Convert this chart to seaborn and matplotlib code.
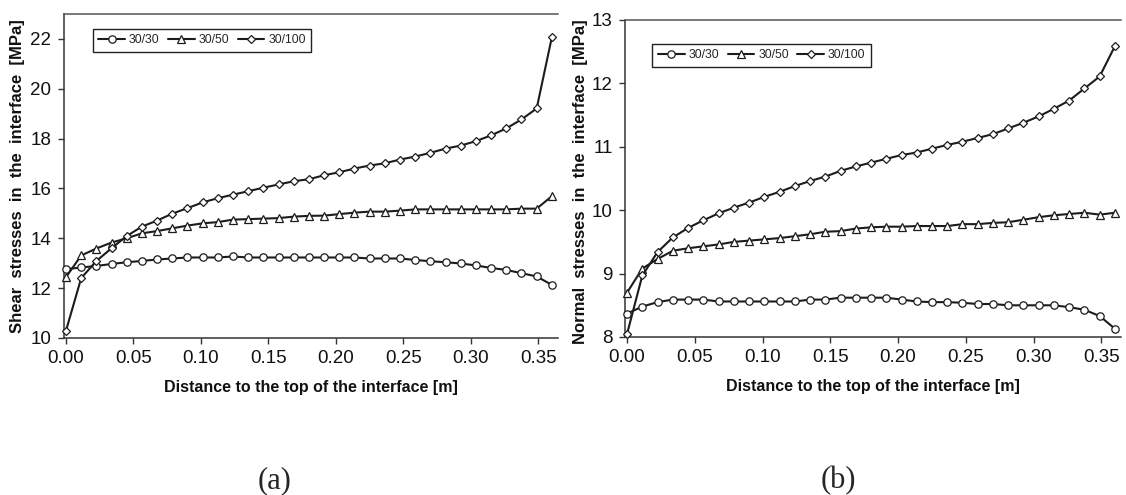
import matplotlib
matplotlib.use("Agg")
import matplotlib.pyplot as plt
import seaborn as sns
import pandas as pd

# ---- data -------------------------------------------------------------
distance = [0.0, 0.01125, 0.0225, 0.03375, 0.045, 0.05625, 0.0675, 0.07875,
            0.09, 0.10125, 0.1125, 0.12375, 0.135, 0.14625, 0.1575, 0.16875,
            0.18, 0.19125, 0.2025, 0.21375, 0.225, 0.23625, 0.2475, 0.25875,
            0.27, 0.28125, 0.2925, 0.30375, 0.315, 0.32625, 0.3375, 0.34875,
            0.36]

series_names = ["30/30", "30/50", "30/100"]

shear_30_30 = [12.76, 12.83, 12.89, 12.97, 13.04, 13.09, 13.15, 13.19, 13.23,
               13.23, 13.23, 13.27, 13.23, 13.23, 13.23, 13.23, 13.23, 13.23,
               13.23, 13.23, 13.19, 13.19, 13.19, 13.13, 13.08, 13.04, 12.99,
               12.91, 12.81, 12.73, 12.60, 12.47, 12.13]
shear_30_50 = [12.44, 13.31, 13.59, 13.83, 14.00, 14.20, 14.29, 14.40, 14.51,
               14.60, 14.65, 14.75, 14.77, 14.79, 14.81, 14.87, 14.90, 14.91,
               14.97, 15.03, 15.07, 15.07, 15.11, 15.16, 15.16, 15.16, 15.16,
               15.16, 15.16, 15.16, 15.19, 15.19, 15.69]
shear_30_100 = [10.29, 12.40, 13.09, 13.60, 14.09, 14.47, 14.71, 14.99, 15.21,
                15.44, 15.61, 15.75, 15.89, 16.03, 16.16, 16.29, 16.37, 16.53,
                16.65, 16.80, 16.92, 17.01, 17.16, 17.28, 17.43, 17.60, 17.72,
                17.90, 18.13, 18.41, 18.77, 19.21, 22.07]

normal_30_30 = [8.37, 8.48, 8.55, 8.59, 8.59, 8.59, 8.56, 8.56, 8.56, 8.56,
                8.56, 8.56, 8.59, 8.59, 8.62, 8.62, 8.62, 8.62, 8.59, 8.56,
                8.55, 8.55, 8.54, 8.52, 8.52, 8.50, 8.50, 8.50, 8.50, 8.47,
                8.43, 8.33, 8.13]
normal_30_50 = [8.70, 9.08, 9.23, 9.36, 9.40, 9.43, 9.46, 9.50, 9.52, 9.54,
                9.56, 9.59, 9.62, 9.66, 9.67, 9.71, 9.73, 9.74, 9.74, 9.75,
                9.75, 9.75, 9.78, 9.78, 9.80, 9.81, 9.85, 9.89, 9.92, 9.94,
                9.96, 9.93, 9.96]
normal_30_100 = [8.05, 8.97, 9.34, 9.57, 9.72, 9.84, 9.95, 10.04, 10.12, 10.21,
                 10.29, 10.38, 10.46, 10.53, 10.62, 10.69, 10.75, 10.81, 10.87,
                 10.91, 10.97, 11.03, 11.08, 11.14, 11.20, 11.29, 11.38, 11.48,
                 11.60, 11.73, 11.92, 12.11, 12.59]

x_ticks = [0.00, 0.05, 0.10, 0.15, 0.20, 0.25, 0.30, 0.35]
shear_ticks = [10, 12, 14, 16, 18, 20, 22]
normal_ticks = [8, 9, 10, 11, 12, 13]

x_label = "Distance to the top of the interface [m]"
shear_label = "Shear  stresses  in  the  interface  [MPa]"
normal_label = "Normal  stresses  in  the  interface  [MPa]"
captions = ["(a)", "(b)"]

# ---- style ------------------------------------------------------------
sns.set_theme(style="ticks")
plt.rcParams["font.family"] = ["Liberation Sans", "DejaVu Sans"]

LINE = "#1c1c1c"
markers = {"30/30": ("o", 5.3), "30/50": ("^", 5.5), "30/100": ("D", 4.1)}

fig = plt.figure(figsize=(11.26, 4.95), dpi=100)
ax1 = fig.add_axes([0.0568, 0.3172, 0.4387, 0.6545])
ax2 = fig.add_axes([0.5551, 0.3192, 0.4405, 0.6404])


def draw(ax, values, yticks, ylim, ylabel, ylabel_xy, legend_anchor):
    df = pd.DataFrame({
        "x": distance * 3,
        "y": values[0] + values[1] + values[2],
        "series": [n for n in series_names for _ in distance],
    })
    for name in series_names:
        sub = df[df["series"] == name]
        m, ms = markers[name]
        sns.lineplot(data=sub, x="x", y="y", ax=ax, color=LINE, lw=1.5,
                     marker=m, markersize=ms, markerfacecolor="white",
                     markeredgecolor=LINE, markeredgewidth=0.9,
                     label=name, errorbar=None, clip_on=False, zorder=3)
    ax.set_xlim(-0.0015, 0.3645)
    ax.set_ylim(*ylim)
    ax.set_xticks(x_ticks)
    ax.set_xticklabels([f"{t:.2f}" for t in x_ticks])
    ax.set_yticks(yticks)
    ax.set_yticklabels([str(t) for t in yticks])
    ax.tick_params(axis="both", direction="out", length=4, width=1.0,
                   color="#333333", labelsize=13.5, pad=5, labelcolor="#111111")
    ax.set_xlabel(x_label, fontsize=11.5, fontweight="bold", labelpad=9,
                  color="#111111")
    ax.set_ylabel(ylabel, fontsize=12, fontweight="bold", color="#111111",
                  va="center")
    ax.yaxis.set_label_coords(*ylabel_xy)
    for side in ("left", "bottom"):
        ax.spines[side].set_color("#333333")
        ax.spines[side].set_linewidth(1.1)
    ax.spines["top"].set_color("#555555")
    ax.spines["top"].set_linewidth(1.1)
    ax.spines["right"].set_visible(False)
    ax.grid(False)
    leg = ax.legend(ncol=3, loc="upper left", bbox_to_anchor=legend_anchor,
                    fontsize=8.8, frameon=True, fancybox=False, shadow=False,
                    handlelength=2.2, handletextpad=0.3, columnspacing=0.7,
                    borderpad=0.45, borderaxespad=0.0, framealpha=1.0)
    leg.get_frame().set_edgecolor("#222222")
    leg.get_frame().set_linewidth(1.0)


draw(ax1, [shear_30_30, shear_30_50, shear_30_100], shear_ticks, (10, 23),
     shear_label, (-0.094, 0.5), (0.058, 0.955))
draw(ax2, [normal_30_30, normal_30_50, normal_30_100], normal_ticks, (8, 13),
     normal_label, (-0.089, 0.49), (0.055, 0.925))

fig.text(275 / 1126, 1 - 481 / 495, captions[0], ha="center", va="center",
         fontsize=22, family=["Liberation Serif", "DejaVu Serif"])
fig.text(838 / 1126, 1 - 481 / 495, captions[1], ha="center", va="center",
         fontsize=22, family=["Liberation Serif", "DejaVu Serif"])

fig.savefig("out.png", dpi=100, facecolor="white")
